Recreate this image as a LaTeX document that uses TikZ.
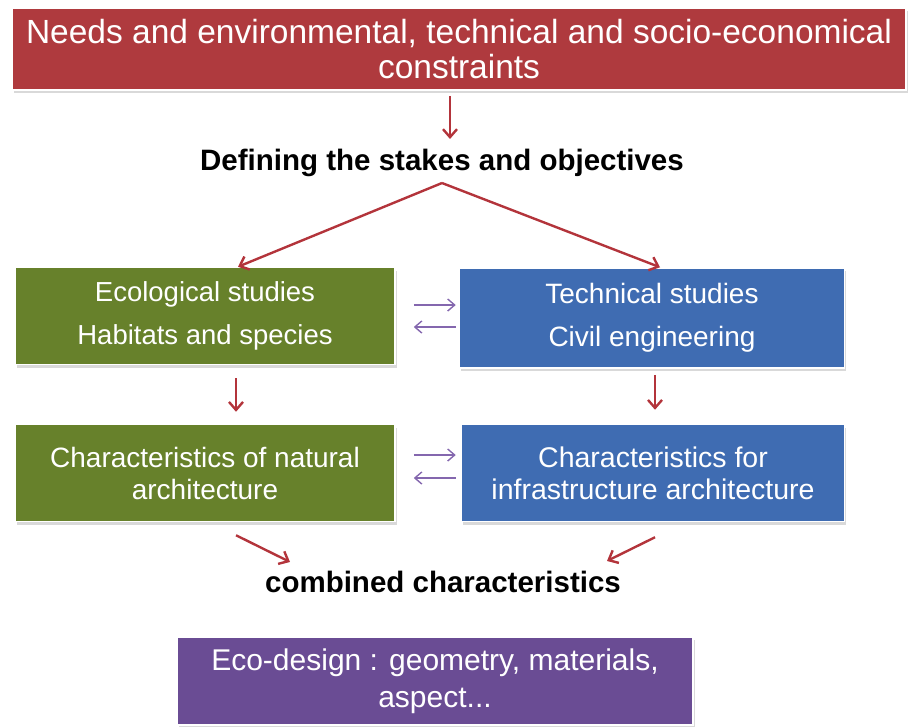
\documentclass[tikz,border=0pt]{standalone}
\usepackage{fontspec}
\setmainfont{Liberation Sans}
\usetikzlibrary{shadows,arrows.meta}

\definecolor{boxred}{HTML}{AF3A3E}
\definecolor{arrowred}{HTML}{B3343B}
\definecolor{boxgreen}{HTML}{67812B}
\definecolor{boxblue}{HTML}{3F6CB2}
\definecolor{boxpurple}{HTML}{6A4C94}
\definecolor{arrowpurple}{HTML}{8467AE}

\begin{document}
\begin{tikzpicture}[x=1pt, y=-1pt,
      box/.style = {draw=white, line width=1.5pt, text=white, align=center,
        inner sep=0pt,
        drop shadow={shadow xshift=1.5pt, shadow yshift=-3pt, opacity=0.3}},
      title/.style = {font=\bfseries\fontsize{29.5}{34}\selectfont, inner sep=2pt},
      redarrow/.style = {draw=arrowred, line width=2.4pt,
        -{Straight Barb[length=8pt, width=14pt, line width=2.4pt]}},
      swap/.style = {draw=arrowpurple, line width=1.4pt,
        -{Straight Barb[length=7pt, width=12pt, line width=1.4pt]}}]
    \useasboundingbox (0,0) rectangle (908,726);

    % nodes
    \node[box, fill=boxred, minimum width=894pt, minimum height=82pt,
      font=\fontsize{33.5}{35}\selectfont] (needs) at (459,49)
      {Needs and environmental, technical and socio-economical\\constraints};
    \node[title] (stakes) at (442,163) {Defining the stakes and objectives};

    \node[box, fill=boxgreen, minimum width=380pt, minimum height=97pt,
      font=\fontsize{27.5}{30}\selectfont] (eco) at (205,316)
      {Ecological studies\\[13pt]Habitats and species};
    \node[box, fill=boxblue, minimum width=385pt, minimum height=100pt,
      font=\fontsize{28}{30}\selectfont] (tech) at (652,318)
      {Technical studies\\[13pt]Civil engineering};

    \node[box, fill=boxgreen, minimum width=380pt, minimum height=97pt,
      font=\fontsize{28}{32}\selectfont] (natarch) at (205,473)
      {Characteristics of natural\\architecture};
    \node[box, fill=boxblue, minimum width=383pt, minimum height=97pt,
      font=\fontsize{28.5}{32}\selectfont] (infra) at (653,473)
      {Characteristics for\\infrastructure architecture};

    \node[title] (combined) at (443,582) {combined characteristics};

    \node[box, fill=boxpurple, minimum width=516pt, minimum height=88pt,
      font=\fontsize{30}{37}\selectfont] (design) at (435,681)
      {Eco-design : geometry, materials,\\aspect...};

    % red arrows
    \draw[redarrow] ([shift={(-9,5)}]needs.south) -- ([shift={(8,-8)}]stakes.north);
    \draw[redarrow] ([shift={(0,4)}]stakes.south) -- ([shift={(33,0)}]eco.north);
    \draw[redarrow] ([shift={(0,4)}]stakes.south) -- ([shift={(8,0)}]tech.north);
    \draw[redarrow] ([shift={(31,13)}]eco.south) -- ([shift={(31,-12)}]natarch.north);
    \draw[redarrow] ([shift={(3,6)}]tech.south) -- ([shift={(2,-14)}]infra.north);
    \draw[redarrow] ([shift={(31,13)}]natarch.south) -- ([shift={(-153,-7)}]combined.north);
    \draw[redarrow] ([shift={(2,15)}]infra.south) -- ([shift={(164,-8)}]combined.north);

    % purple arrows
    \draw[swap] ([shift={(18,-11)}]eco.east) -- ([shift={(-3,-13)}]tech.west);
    \draw[swap] ([shift={(-3,9)}]tech.west) -- ([shift={(18,11)}]eco.east);
    \draw[swap] ([shift={(18,-18)}]natarch.east) -- ([shift={(-5,-18)}]infra.west);
    \draw[swap] ([shift={(-5,5)}]infra.west) -- ([shift={(18,5)}]natarch.east);

  \end{tikzpicture}
\end{document}
